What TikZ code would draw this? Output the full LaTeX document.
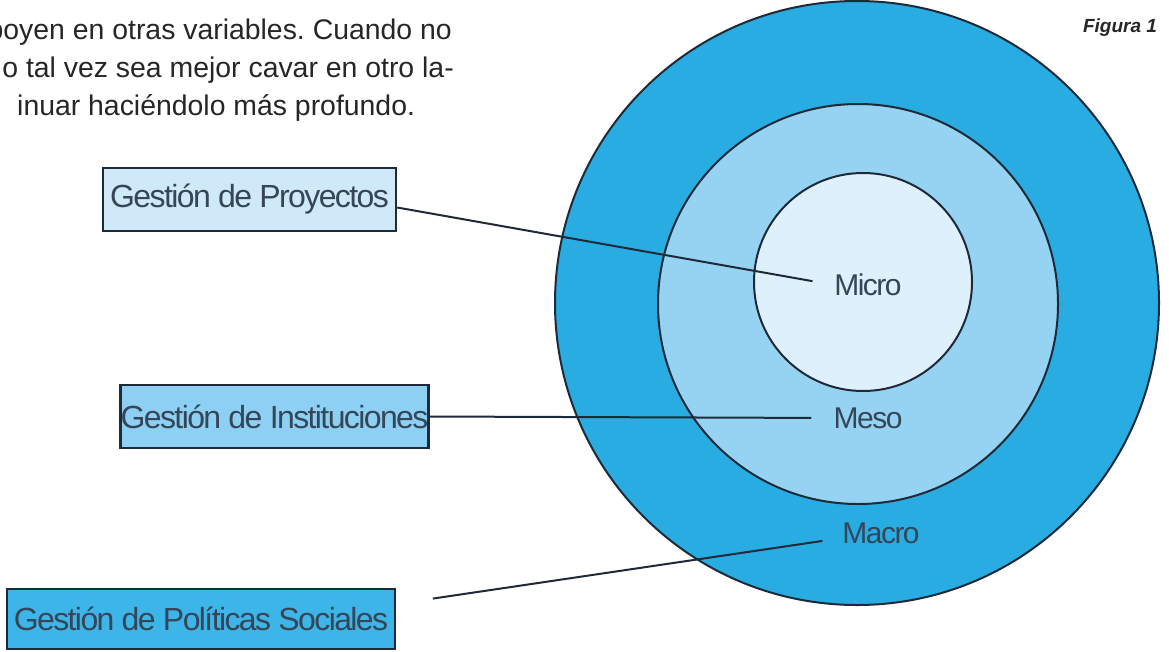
\documentclass[tikz,border=0pt]{standalone}
\usepackage{fontspec}
\setmainfont{Liberation Sans}
\newfontfamily\thinfont[LetterSpace=-5]{Liberation Sans}
\usepackage{tikz}
\usetikzlibrary{positioning}
\frenchspacing
\definecolor{ringout}{RGB}{40, 172, 226}
\definecolor{ringmid}{RGB}{150, 211, 243}
\definecolor{ringin}{RGB}{222, 240, 251}
\definecolor{boxlight}{RGB}{208, 233, 248}
\definecolor{boxmid}{RGB}{142, 208, 243}
\definecolor{boxdark}{RGB}{62, 181, 232}
\definecolor{edge}{RGB}{30, 42, 55}
\definecolor{ink}{RGB}{52, 70, 88}
\tikzstyle{ring} = [circle, draw=edge, line width=2pt, inner sep=0pt]
\tikzstyle{gbox} = [draw=edge, line width=2.4pt, text=ink, font=\thinfont\fontsize{32}{32}\selectfont, inner sep=0pt, minimum height=63pt]
\tikzstyle{lvl} = [text=ink, font=\thinfont\fontsize{30}{30}\selectfont, inner sep=0pt]
\tikzstyle{para} = [text=black!85, font=\fontsize{28.4}{37}\selectfont, inner sep=0pt]
\tikzstyle{link} = [draw=edge, line width=2pt]
\begin{document}
\begin{tikzpicture}[x=1pt, y=-1pt]

\useasboundingbox[fill=white] (0,0) rectangle (1169,651);

% text of the page ======================
\node[para, anchor=base east] (line1) at (452,39) {apoyen en otras variables. Cuando no};
\node[para, anchor=base east] (line2) at (454,77) {o tal vez sea mejor cavar en otro la-};
\node[para, anchor=base west] (line3) at (17,115) {inuar haciéndolo más profundo.};
\node[text=black!85, font=\bfseries\itshape\fontsize{19}{19}\selectfont, inner sep=0pt] (fig) at (1120,28) {Figura 1};

% levels ================================
\node[ring, fill=ringout, minimum size=604pt] (macro) at (857,303) {};
\node[ring, fill=ringmid, minimum size=400pt] (meso) at (858,304) {};
\node[ring, fill=ringin, minimum size=218pt] (micro) at (863,282) {};

\node[lvl] (lmicro) at (868,285) {Micro};
\node[lvl] (lmeso) at (868,418) {Meso};
\node[lvl] (lmacro) at (881,533) {Macro};

% management boxes ======================
\node[gbox, fill=boxlight, minimum width=293pt] (proy) at (249.5,199.5) {Gestión de Proyectos};
\node[gbox, fill=boxmid, minimum width=307pt] (inst) at (274.5,416.5) {Gestión de Instituciones};
\node[gbox, fill=boxdark, minimum width=388pt, minimum height=60pt] (pol) at (201,619) {Gestión de Políticas Sociales};

% edges
\path[link, shorten >=22pt] ([yshift=-8pt]proy.east) -- (lmicro.west);
\path[link, shorten >=22pt] (inst.east) -- (lmeso.west);
\path[link, shorten <=37pt, shorten >=20pt] ([yshift=15pt]pol.east) -- ([yshift=-5pt]lmacro.west);

\end{tikzpicture}
\end{document}
